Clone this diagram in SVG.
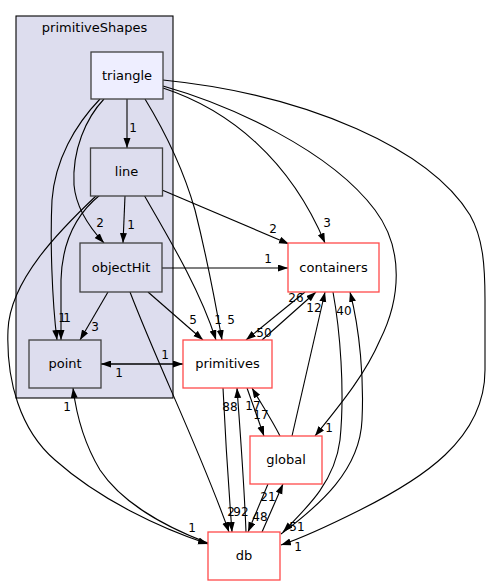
<svg xmlns="http://www.w3.org/2000/svg" width="491" height="585" viewBox="0 0 491 585">
<style>
text{font-family:"DejaVu Sans",sans-serif;fill:#000}
.n{font-size:13px;text-anchor:middle}
.l{font-size:12px;text-anchor:middle}
.in{fill:#ddddee;stroke:#404040;stroke-width:1.3}
.out{fill:#fff;stroke:#ff4a4a;stroke-width:1.3}
.e{fill:none;stroke:#000;stroke-width:1.1;marker-end:url(#a)}
</style>
<defs>
<marker id="a" markerUnits="userSpaceOnUse" markerWidth="11" markerHeight="8" refX="10" refY="3.5" orient="auto"><path d="M0,0 L10,3.5 L0,7 z" fill="#000"/></marker>
<marker id="s" markerUnits="userSpaceOnUse" markerWidth="11" markerHeight="8" refX="0" refY="3.5" orient="auto"><path d="M10,0 L0,3.5 L10,7 z" fill="#000"/></marker>
</defs>
<g id="cluster_primitiveShapes">
<rect x="16" y="16" width="157" height="382" fill="#ddddee" stroke="#000" stroke-width="1.1"/>
<text class="n" x="94.5" y="31.5">primitiveShapes</text>
</g>
<g id="connectors">
<path class="e" d="M127,99 L127,148"/>
<path class="e" d="M104,99 C86,118 72,150 74,185 C76,208 90,228 104,243"/>
<path class="e" d="M100,99 C75,125 55,160 52,200 C50,240 52,300 57,340"/>
<path class="e" d="M145,99 C170,140 185,175 195,210 C205,250 215,300 222,340"/>
<path class="e" d="M163,88 C230,110 290,160 325,243"/>
<path class="e" d="M163,86 C230,105 330,150 375,210 C405,250 400,300 380,340 C365,375 340,405 315,436"/>
<path class="e" d="M163,80 C310,95 430,150 470,215 C483,238 485,265 485,300 L485,370 C485,440 420,480 360,510 C330,525 305,537 281,545"/>
<path class="e" d="M125,196 L123,243"/>
<path class="e" d="M100,195 C75,215 62,245 61,280 L61,340"/>
<path class="e" d="M162,190 L289,244"/>
<path class="e" d="M144,195 C170,240 200,290 216,340"/>
<path class="e" d="M97,195 C60,230 10,280 8,330 C6,380 20,430 55,460 C100,500 160,528 208,544"/>
<path class="e" d="M108,292 L80,340"/>
<path class="e" d="M148,292 L203,340"/>
<path class="e" d="M162,268 L288,268"/>
<path class="e" d="M130,292 C160,370 200,450 229,532"/>
<path fill="none" stroke="#000" stroke-width="1.6" d="M101,364 L183,364" marker-start="url(#s)" marker-end="url(#a)"/>
<path class="e" d="M208,543 C160,525 120,500 100,470 C85,445 77,420 73,388"/>
<path class="e" d="M262,340 L316,292"/>
<path class="e" d="M305,292 L246,340"/>
<path class="e" d="M292,436 L325,292"/>
<path class="e" d="M333,292 C340,330 345,390 340,440 C335,480 310,505 283,532"/>
<path class="e" d="M281,534 C320,505 360,470 362,420 C364,380 360,330 350,292"/>
<path class="e" d="M223,388 C225,430 228,480 232,532"/>
<path class="e" d="M246,532 C244,480 240,430 237,388"/>
<path class="e" d="M247,388 L264,436"/>
<path class="e" d="M280,436 C272,420 262,405 252,388"/>
<path class="e" d="M268,484 L248,532"/>
<path class="e" d="M262,532 L283,484"/>
</g>
<g id="node_triangle"><rect x="91" y="52" width="72" height="47" fill="#eeeeff" stroke="#404040" stroke-width="1.3"/><text class="n" x="127" y="80">triangle</text></g>
<g id="node_line"><rect class="in" x="90.5" y="148" width="72" height="48"/><text class="n" x="126.5" y="176">line</text></g>
<g id="node_objectHit"><rect class="in" x="80" y="243" width="82" height="49"/><text class="n" x="121" y="272">objectHit</text></g>
<g id="node_point"><rect class="in" x="29" y="340" width="72" height="48"/><text class="n" x="65" y="368">point</text></g>
<g id="node_primitives"><rect class="out" x="183" y="340" width="89" height="48"/><text class="n" x="227.5" y="368">primitives</text></g>
<g id="node_containers"><rect class="out" x="288" y="243" width="91" height="49"/><text class="n" x="333.5" y="272">containers</text></g>
<g id="node_global"><rect class="out" x="250" y="436" width="72" height="48"/><text class="n" x="286" y="464">global</text></g>
<g id="node_db"><rect class="out" x="208" y="532" width="72" height="48"/><text class="n" x="244" y="560">db</text></g>
<g id="labels">
<text class="l" x="133" y="132">1</text>
<text class="l" x="100" y="227">2</text>
<text class="l" x="131" y="229">1</text>
<text class="l" x="62" y="322">1</text>
<text class="l" x="67" y="322">1</text>
<text class="l" x="95" y="331">3</text>
<text class="l" x="193" y="324">5</text>
<text class="l" x="218" y="324">1</text>
<text class="l" x="231" y="324">5</text>
<text class="l" x="273" y="233">2</text>
<text class="l" x="327" y="227">3</text>
<text class="l" x="268" y="263">1</text>
<text class="l" x="165" y="359">1</text>
<text class="l" x="119" y="377">1</text>
<text class="l" x="67" y="411">1</text>
<text class="l" x="296" y="302">26</text>
<text class="l" x="314" y="312">12</text>
<text class="l" x="344" y="315">40</text>
<text class="l" x="264" y="337">50</text>
<text class="l" x="329" y="432">1</text>
<text class="l" x="230" y="411">88</text>
<text class="l" x="253" y="410">17</text>
<text class="l" x="261" y="419">17</text>
<text class="l" x="268" y="501">21</text>
<text class="l" x="231" y="516">2</text>
<text class="l" x="241" y="516">92</text>
<text class="l" x="260" y="521">48</text>
<text class="l" x="297" y="531">51</text>
<text class="l" x="298" y="551">1</text>
<text class="l" x="192" y="532">1</text>
</g>
</svg>
